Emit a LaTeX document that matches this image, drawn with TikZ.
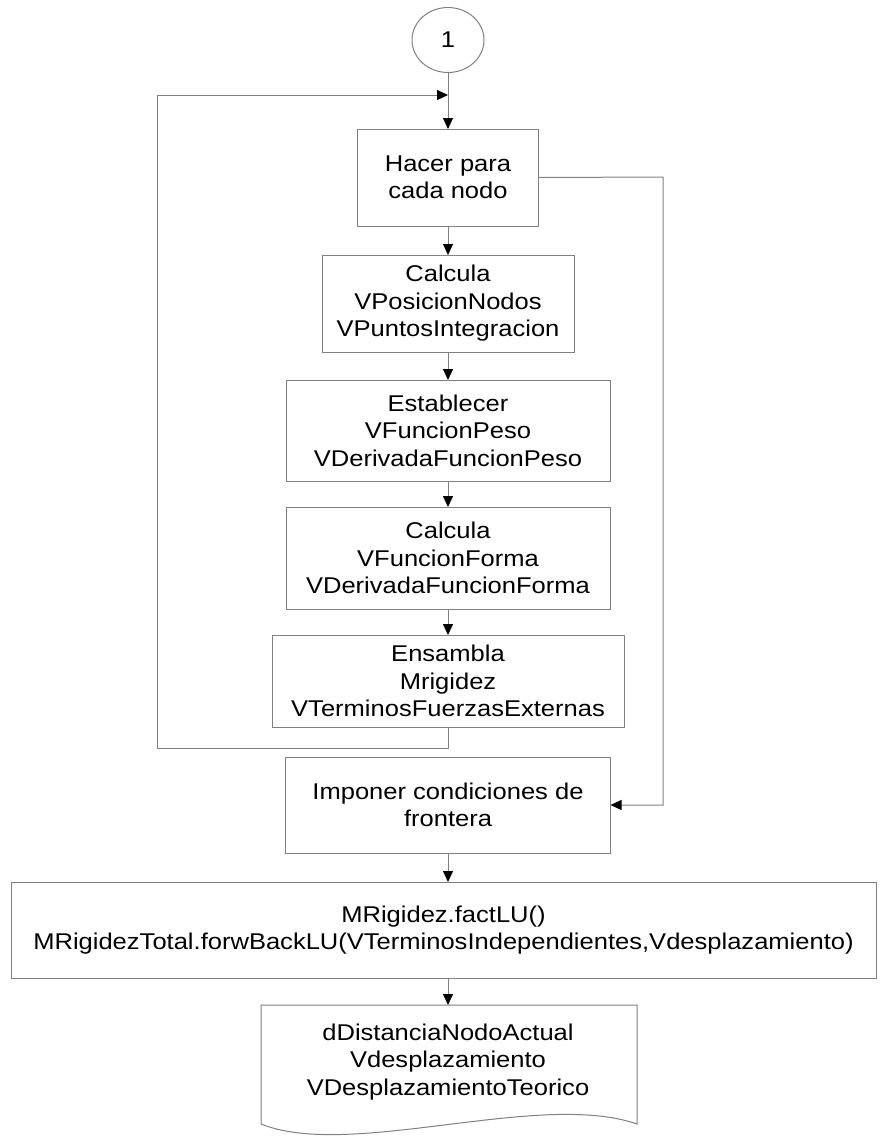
\documentclass[tikz,border=0pt]{standalone}
\usepackage{fontspec}
\setmainfont{Liberation Sans}[FakeStretch=1.12]
\usetikzlibrary{shapes.geometric,arrows.meta}
\begin{document}
\begin{tikzpicture}[x=1pt,y=-1pt,
  every node/.style={font=\fontsize{22.8}{27.5}\selectfont, align=center, inner sep=0pt, outer sep=0pt},
  caja/.style={draw=black!50, line width=1pt},
  flecha/.style={draw=black!50, line width=1pt, -{Triangle[length=11pt,width=10pt,color=black]}}]
\useasboundingbox (0,0) rectangle (879,1138);
\node[caja, ellipse, minimum width=72pt, minimum height=65pt] (conector) at (448,40) {1};
\node[caja, minimum width=181pt, minimum height=97pt] (hacer) at (448,177.5) {Hacer para\\cada nodo};
\node[caja, minimum width=252pt, minimum height=97pt] (calcPos) at (448,303.5) {Calcula\\VPosicionNodos\\VPuntosIntegracion};
\node[caja, minimum width=324pt, minimum height=101pt] (establecer) at (448,430.5) {Establecer\\VFuncionPeso\\VDerivadaFuncionPeso};
\node[caja, minimum width=324pt, minimum height=102pt] (calcForma) at (448,558) {Calcula\\VFuncionForma\\VDerivadaFuncionForma};
\node[caja, minimum width=352pt, minimum height=92pt] (ensambla) at (448,681) {Ensambla\\Mrigidez\\VTerminosFuerzasExternas};
\node[caja, minimum width=325pt, minimum height=96pt] (imponer) at (448,805) {Imponer condiciones de\\frontera};
\node[caja, minimum width=865pt, minimum height=96pt] (factLU) at (443.5,930) {MRigidez.factLU()\\MRigidezTotal.forwBackLU(VTerminosIndependientes,Vdesplazamiento)};
\node (salida) at (448,1062) {dDistanciaNodoActual\\Vdesplazamiento\\VDesplazamientoTeorico};
\draw[caja] ([xshift=-187pt]salida.center) ++(0,-57) -- ++(376,0) -- ++(0,119)
  .. controls ++(-97,-34) and ++(89,36) .. ++(-376,0) -- cycle;

\coordinate (union) at (448,95);
\coordinate (esqIzq) at (157,748);
\coordinate (esqDer) at (663,177);
\draw[flecha] (conector) -- (hacer);
\draw[flecha] (hacer) -- (calcPos);
\draw[flecha] (calcPos) -- (establecer);
\draw[flecha] (establecer) -- (calcForma);
\draw[flecha] (calcForma) -- (ensambla);
\draw[flecha] (ensambla.south) |- (esqIzq) |- (union);
\draw[flecha] (hacer.east) -- (esqDer) |- (imponer.east);
\draw[flecha] (imponer) -- (factLU.north -| imponer);
\draw[flecha] (factLU.south -| salida) -- ([yshift=57pt]salida.center);
\end{tikzpicture}
\end{document}
